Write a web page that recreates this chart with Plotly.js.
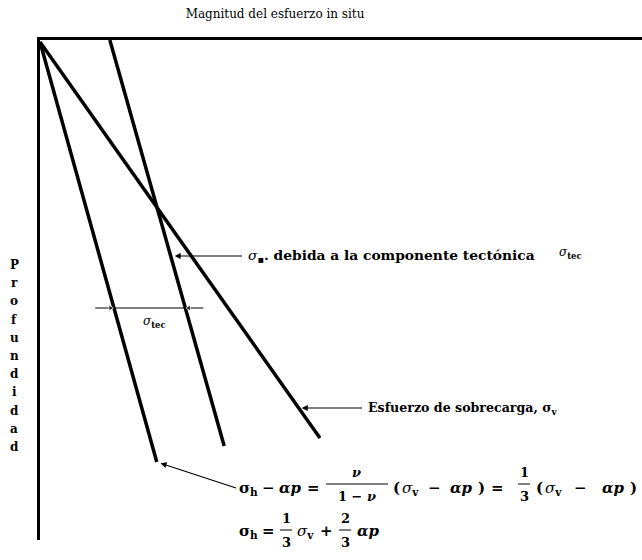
<!DOCTYPE html>
<html>
<head>
<meta charset="utf-8">
<script src="https://cdn.plot.ly/plotly-3.0.1.min.js"></script>
<style>
  html, body { margin: 0; padding: 0; background: #fff; }
  #chart { width: 642px; height: 560px; }
</style>
</head>
<body>
<div id="chart"></div>
<script>
// Stress magnitude (x, arbitrary units 0-100) against depth (y, 0-100, downward)
const profSobrecarga = [0.4, 79.6];   // overburden stress sigma_v
const esfSobrecarga  = [0, 46.5];
const profHorizontal = [0.4, 84.4];   // horizontal stress sigma_h
const esfHorizontal  = [0, 19.4];
const profTectonico  = [0, 81.2];     // sigma_h plus tectonic component
const esfTectonico   = [11.6, 30.6];

// depths where the call-outs touch the lines
const profFlechaTec = 43.2;
const profCota = 53.6;
const profFlechaSobrecarga = 73.6;

const letrasEje = "Profundidad".split("");

// magnitude of a line at a given depth (linear between its two points)
function magnitudEn(xs, ys, d) {
  const t = (d - ys[0]) / (ys[1] - ys[0]);
  return xs[0] + t * (xs[1] - xs[0]);
}

// plot area: 40..642 px horizontally, 40..540 px vertically
const L = 40, T = 40, W = 602, H = 500;
const px = x => (x - L) / W;
const py = y => 1 - (y - T) / H;

const lineStyle = {color: '#000', width: 3.5};

// sigma_tec dimension between the sigma_h line and the tectonic line
const cotaIzq = magnitudEn(esfHorizontal, profHorizontal, profCota);
const cotaDer = magnitudEn(esfTectonico, profTectonico, profCota);

const traces = [
  {x: esfHorizontal, y: profHorizontal, mode: 'lines', line: lineStyle, hoverinfo: 'skip'},
  {x: esfTectonico, y: profTectonico, mode: 'lines', line: lineStyle, hoverinfo: 'skip'},
  {x: esfSobrecarga, y: profSobrecarga, mode: 'lines', line: lineStyle, hoverinfo: 'skip'},
  {x: [cotaIzq - 3.1, cotaIzq - 0.6, cotaDer + 0.6, cotaDer + 3],
   y: [profCota, profCota, profCota, profCota],
   mode: 'lines+markers', line: {color: '#000', width: 1},
   marker: {color: '#000', size: [0, 6, 6, 0],
            symbol: ['circle', 'triangle-right', 'triangle-left', 'circle']},
   hoverinfo: 'skip'}
];

const serif = '"DejaVu Serif", "Liberation Serif", serif';
const fBold = {family: serif, size: 12, color: '#000', weight: 'bold'};
const fForm = {family: serif, size: 15, color: '#000', weight: 'bold'};
const sigmaFina = '<span style="font-weight:normal"><i>σ</i></span>';

const ann = [];

// vertical axis label, one letter per row
letrasEje.forEach((c, i) => {
  ann.push({xref: 'paper', yref: 'paper', x: px(14), y: py(265 + i * 18.2),
    text: c, showarrow: false, font: fBold, xanchor: 'center', yanchor: 'middle'});
});

const arrowBase = {showarrow: true, arrowhead: 2, arrowsize: 1, arrowwidth: 1.2,
  arrowcolor: '#000', xref: 'x', yref: 'y', xanchor: 'left', yanchor: 'middle',
  font: fBold, borderpad: 5};

// tectonic component call-out
const xTec = magnitudEn(esfTectonico, profTectonico, profFlechaTec);
ann.push(Object.assign({}, arrowBase, {
  x: xTec, y: profFlechaTec, ax: 242 - (L + xTec * W / 100), ay: 0, standoff: 4,
  font: Object.assign({}, fBold, {size: 13.8}),
  text: sigmaFina + '<sub>▪</sub>. debida a la componente tectónica'}));
ann.push({xref: 'paper', yref: 'paper', x: px(557), y: py(253), xanchor: 'left', yanchor: 'middle',
  showarrow: false, font: fBold, text: sigmaFina + '<sub>tec</sub>'});

ann.push({xref: 'paper', yref: 'paper', x: px(141), y: py(322), xanchor: 'left', yanchor: 'middle',
  showarrow: false, font: fBold, text: sigmaFina + '<sub>tec</sub>'});

// overburden call-out
const xSob = magnitudEn(esfSobrecarga, profSobrecarga, profFlechaSobrecarga);
ann.push(Object.assign({}, arrowBase, {
  x: xSob, y: profFlechaSobrecarga, ax: 362 - (L + xSob * W / 100), ay: 0, standoff: 3,
  font: Object.assign({}, fBold, {size: 12.6}),
  text: 'Esfuerzo de sobrecarga, σ<sub>v</sub>'}));

// formulas, placed piece by piece
function txt(x, y, t, anchor, size) {
  ann.push({xref: 'paper', yref: 'paper', x: px(x), y: py(y), xanchor: anchor || 'left',
    yanchor: 'middle', showarrow: false, text: t,
    font: Object.assign({}, fForm, size ? {size: size} : {})});
}
const bars = [];
function frac(xc, yc, num, den, half) {
  txt(xc, yc - 12, num, 'center', 13);
  txt(xc, yc + 12, den, 'center', 13);
  bars.push({type: 'line', xref: 'paper', yref: 'paper', x0: px(xc - half), x1: px(xc + half),
    y0: py(yc), y1: py(yc), line: {color: '#000', width: 1}});
}

// line 1, with the arrow to the bottom of the sigma_h line
const y1 = 488;
ann.push(Object.assign({}, arrowBase, {
  x: esfHorizontal[1], y: profHorizontal[1], standoff: 4, borderpad: 2,
  ax: 236 - (L + esfHorizontal[1] * W / 100), ay: y1 - (T + profHorizontal[1] * H / 100),
  font: fForm, text: 'σ<sub>h</sub>'}));
txt(268, y1, '−', 'center');
txt(277, y1, '<i>αp</i>');
txt(313, y1, '=', 'center');
frac(357, y1 - 4, '<i>ν</i>', '1 − <i>ν</i>', 31);
txt(391, y1, '(');
txt(400, y1, sigmaFina + '<sub>v</sub>');
txt(434, y1, '−', 'center');
txt(448, y1, '<i>αp</i>');
txt(476, y1, ')');
txt(497, y1, '=', 'center');
frac(524, y1 - 4, '1', '3', 6);
txt(534, y1, '(');
txt(543, y1, sigmaFina + '<sub>v</sub>');
txt(580, y1, '−', 'center');
txt(600, y1, '<i>αp</i>');
txt(628, y1, ')');

// line 2
const y2 = 531;
txt(237, y2, 'σ<sub>h</sub>');
txt(268, y2, '=', 'center');
frac(286, y2 - 1, '1', '3', 6);
txt(295, y2, sigmaFina + '<sub>v</sub>');
txt(326, y2, '+', 'center');
frac(345, y2 - 1, '2', '3', 6);
txt(355, y2, '<i>αp</i>');

const layout = {
  width: 642, height: 560,
  margin: {l: L, r: 0, t: T, b: 560 - T - H},
  paper_bgcolor: '#fff', plot_bgcolor: '#fff',
  showlegend: false,
  title: {text: 'Magnitud del esfuerzo in situ', xref: 'container', yref: 'container',
    x: 275 / 642, y: 1 - 14 / 560, xanchor: 'center', yanchor: 'middle',
    font: {family: serif, size: 12, color: '#000'}},
  xaxis: {range: [0, 100], side: 'top', showline: true, linewidth: 3, linecolor: '#000',
    showgrid: false, zeroline: false, showticklabels: false, ticks: '', fixedrange: true},
  yaxis: {range: [100, 0], showline: true, linewidth: 3, linecolor: '#000',
    showgrid: false, zeroline: false, showticklabels: false, ticks: '', fixedrange: true},
  annotations: ann,
  shapes: bars
};

Plotly.newPlot('chart', traces, layout, {displayModeBar: false, staticPlot: true});
</script>
</body>
</html>
